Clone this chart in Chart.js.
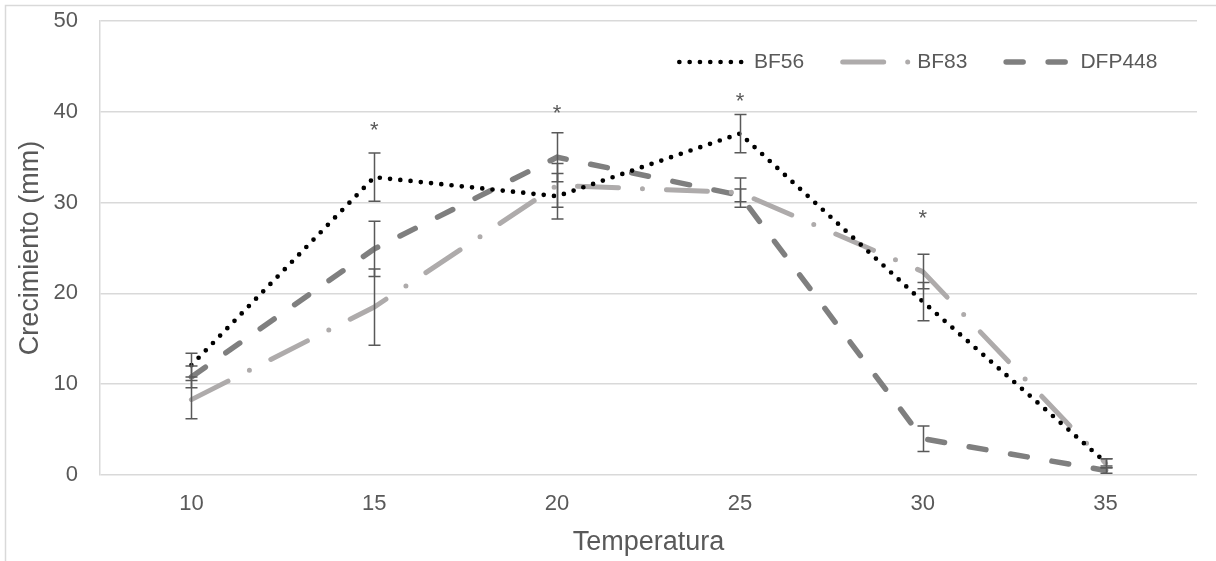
<!DOCTYPE html>
<html>
<head>
<meta charset="utf-8">
<script src="https://cdn.jsdelivr.net/npm/chart.js@4.4.1/dist/chart.umd.min.js"></script>
<style>
  html, body { margin: 0; padding: 0; background: #fff; }
  #wrap { position: relative; width: 1216px; height: 561px; }
</style>
</head>
<body>
<div id="wrap"><canvas id="growth" width="1216" height="561"></canvas></div>
<script>
// temperatures (categories)
var temps = ['10', '15', '20', '25', '30', '35'];

// mean growth (mm) per strain
var bf56 = [12.1, 32.8, 30.7, 37.6, 19.1, 1.4];
var bf83 = [8.3, 18.5, 31.9, 31.1, 22.4, 1.3];
var dfp448 = [10.8, 24.9, 35.0, 30.8, 4.0, 0.5];

// +/- error per point
var bf56Err = [1.3, 2.65, 2.5, 2.1, 2.1, 0.4];
var bf83Err = [2.1, 4.2, 2.4, 1.6, 1.9, 0.5];
var dfp448Err = [1.2, 3.05, 2.7, 0.7, 1.4, 0.3];

// height of the significance asterisk (null = none)
var sigMarks = [null, 38.6, 40.4, 41.7, 28.9, null];

var yTicks = [0, 10, 20, 30, 40, 50];

var textGrey = '#595959';
var fontFam = '"Liberation Sans", Arial, sans-serif';
Chart.defaults.font.family = fontFam;
Chart.defaults.color = textGrey;

// light frame around the whole chart
var frame = {
  id: 'frame',
  beforeDraw: function(chart) {
    var ctx = chart.ctx;
    ctx.save();
    ctx.strokeStyle = '#d9d9d9';
    ctx.lineWidth = 1.5;
    ctx.strokeRect(5.5, 5.5, 1400, 800);
    ctx.restore();
  }
};

// error bars + asterisks on top of the lines
var errorBars = {
  id: 'errorBars',
  afterDatasetsDraw: function(chart) {
    var ctx = chart.ctx, xs = chart.scales.x, ys = chart.scales.y;
    ctx.save();
    ctx.strokeStyle = textGrey;
    ctx.lineWidth = 1.5;
    chart.data.datasets.forEach(function(ds) {
      ds.data.forEach(function(v, i) {
        var e = ds.errors[i];
        var px = Math.round(xs.getPixelForValue(i)) + 0.5;
        var top = ys.getPixelForValue(v + e), bot = ys.getPixelForValue(v - e);
        ctx.beginPath();
        ctx.moveTo(px, top); ctx.lineTo(px, bot);
        ctx.moveTo(px - 6, top); ctx.lineTo(px + 6, top);
        ctx.moveTo(px - 6, bot); ctx.lineTo(px + 6, bot);
        ctx.stroke();
      });
    });
    ctx.fillStyle = textGrey;
    ctx.font = '22px ' + fontFam;
    ctx.textAlign = 'center';
    ctx.textBaseline = 'alphabetic';
    sigMarks.forEach(function(s, i) {
      if (s === null) return;
      ctx.fillText('*', xs.getPixelForValue(i), ys.getPixelForValue(s) + 12);
    });
    ctx.restore();
  }
};

// legend row inside the plot, top right, using each dataset's own line style
var lineLegend = {
  id: 'lineLegend',
  afterDraw: function(chart) {
    var ctx = chart.ctx;
    var x = 677, y = 62;
    ctx.save();
    ctx.font = '21px ' + fontFam;
    ctx.textBaseline = 'middle';
    chart.data.datasets.forEach(function(ds) {
      var lead = ds.borderWidth / 2;
      ctx.strokeStyle = ds.borderColor;
      ctx.lineWidth = ds.borderWidth;
      ctx.lineCap = 'round';
      ctx.setLineDash(ds.borderDash);
      ctx.beginPath();
      ctx.moveTo(x + lead, y);
      ctx.lineTo(x + 70, y);
      ctx.stroke();
      ctx.setLineDash([]);
      ctx.fillStyle = textGrey;
      ctx.fillText(ds.label, x + 77, y);
      x += 77 + ctx.measureText(ds.label).width + 36;
    });
    ctx.restore();
  }
};

new Chart(document.getElementById('growth'), {
  type: 'line',
  data: {
    labels: temps,
    datasets: [
      {
        label: 'BF56', data: bf56, errors: bf56Err,
        borderColor: '#000000', backgroundColor: '#000000',
        borderWidth: 4.7, borderDash: [0, 10.3], borderCapStyle: 'round'
      },
      {
        label: 'BF83', data: bf83, errors: bf83Err,
        borderColor: '#aeabab', backgroundColor: '#aeabab',
        borderWidth: 5, borderDash: [41, 24, 0, 24], borderCapStyle: 'round'
      },
      {
        label: 'DFP448', data: dfp448, errors: dfp448Err,
        borderColor: '#7f7f7f', backgroundColor: '#7f7f7f',
        borderWidth: 5.5, borderDash: [17, 25], borderCapStyle: 'round'
      }
    ]
  },
  options: {
    responsive: false,
    animation: false,
    devicePixelRatio: 1,
    layout: { padding: { left: 0, top: 21, right: 19, bottom: 0 } },
    elements: { point: { radius: 0, hoverRadius: 0 }, line: { tension: 0, fill: false } },
    plugins: {
      tooltip: { enabled: false },
      legend: { display: false }
    },
    scales: {
      x: {
        offset: true,
        grid: { display: false, drawTicks: false },
        border: { display: false },
        ticks: { padding: 16, font: { size: 22 }, color: textGrey },
        title: { display: true, text: 'Temperatura', font: { size: 27 }, color: textGrey, padding: { top: 0, bottom: 2 } },
        afterFit: function(s) { s.height = 86; s.paddingLeft = 0; s.paddingRight = 0; }
      },
      y: {
        min: 0, max: 50,
        afterBuildTicks: function(s) { s.ticks = yTicks.map(function(v) { return { value: v }; }); },
        grid: { color: '#d9d9d9', lineWidth: 1.5, drawTicks: false },
        border: { display: true, color: '#d9d9d9', width: 1.5 },
        ticks: { padding: 22, font: { size: 22 }, color: textGrey },
        title: { display: true, text: 'Crecimiento (mm)', font: { size: 27 }, color: textGrey, padding: { top: 14, bottom: 0 } },
        afterFit: function(s) { s.width = 100; s.paddingTop = 0; s.paddingBottom = 0; }
      }
    }
  },
  plugins: [frame, errorBars, lineLegend]
});
</script>
</body>
</html>
